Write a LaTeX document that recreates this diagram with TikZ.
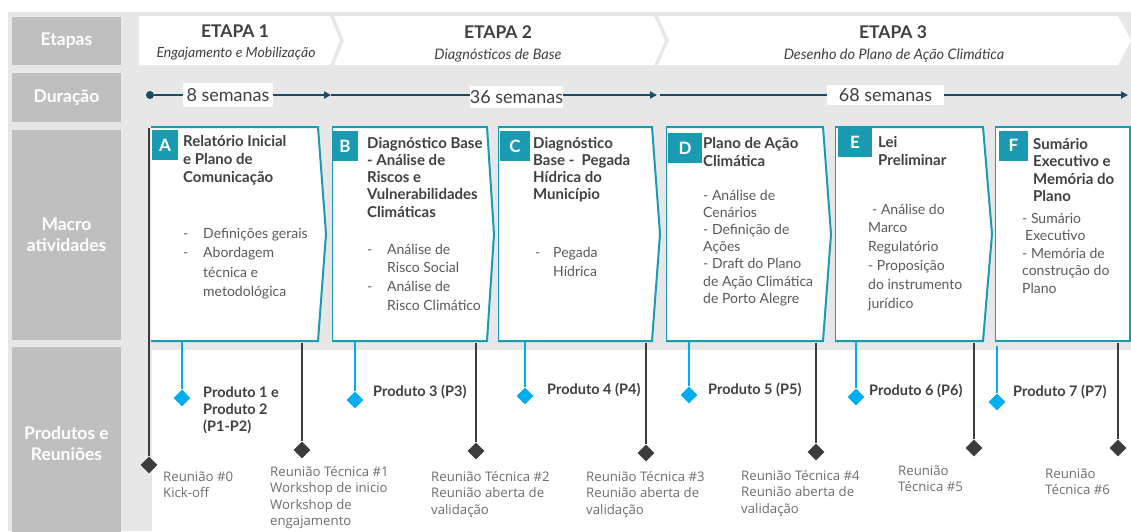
\documentclass[tikz,border=0pt]{standalone}
\usepackage{fontspec}
\setmainfont{Lato}
\newfontfamily\meetfont{Open Sans}
\usetikzlibrary{arrows.meta,shapes.geometric}
\definecolor{bggray}{HTML}{E7E7E7}
\definecolor{labgray}{HTML}{BFBFBF}
\definecolor{boxteal}{HTML}{1A9BB2}
\definecolor{lineblue}{HTML}{1B4B66}
\definecolor{prodblue}{HTML}{00AEEF}
\definecolor{meetgray}{HTML}{3C3C3C}
\definecolor{txtdark}{HTML}{404040}
\definecolor{txtmid}{HTML}{5A5A5A}
\definecolor{txtlight}{HTML}{6E6E6E}
\begin{document}
\begin{tikzpicture}[x=1pt,y=-1pt,
    rowlabel/.style={fill=labgray, text=white, align=center, inner sep=0pt,
      font=\bfseries\fontsize{17.5}{21}\selectfont},
    etapatitle/.style={text=txtdark, anchor=base, inner sep=0pt,
      font=\bfseries\fontsize{17.5}{20}\selectfont},
    etapasub/.style={text=txtdark, anchor=base, inner sep=0pt,
      font=\itshape\fontsize{14.5}{16}\selectfont},
    weeks/.style={fill=white, text=txtdark, inner sep=0pt,
      font=\fontsize{18}{20}\selectfont},
    timeline/.style={draw=lineblue, line width=2pt},
    boxline/.style={draw=boxteal, line width=2pt, line join=miter},
    letterbox/.style={fill=boxteal, text=white, inner sep=0pt, minimum height=30pt,
      font=\bfseries\fontsize{17}{17}\selectfont},
    titletext/.style={text=txtdark, align=left, anchor=base west, inner sep=0pt},
    itemtext/.style={text=txtmid, align=left, anchor=base west, inner sep=0pt},
    prodline/.style={draw=prodblue, line width=2pt},
    meetline/.style={draw=meetgray, line width=2pt},
    proddiamond/.style={diamond, fill=prodblue, minimum size=17pt, inner sep=0pt},
    meetdiamond/.style={diamond, fill=meetgray, minimum size=17pt, inner sep=0pt},
    prodtext/.style={text=txtdark, align=left, anchor=base west, inner sep=0pt,
      font=\bfseries\fontsize{14.5}{17}\selectfont},
    meettext/.style={text=txtlight, align=left, anchor=base west, inner sep=0pt,
      font=\meetfont\fontsize{13.2}{16.5}\selectfont}]
\useasboundingbox (0,0) rectangle (1131,531);

% Drawing background
\fill[white] (0,0) rectangle (1131,531);
\fill[bggray] (8,12) rectangle (1131,531);
\fill[white] (152,350) rectangle (1131,531);

% Drawing row labels
\node[rowlabel, minimum width=109pt, minimum height=48pt] (etapas) at (66.5,41) {Etapas};
\node[rowlabel, minimum width=109pt, minimum height=49pt] (duracao) at (66.5,97.5) {Duração};
\node[rowlabel, minimum width=109pt, minimum height=210pt] (macro) at (66.5,235) {Macro\\atividades};
\node[rowlabel, minimum width=109pt, minimum height=194pt] (produtos) at (66.5,444) {Produtos e\\Reuniões};

% Drawing stage chevrons
\fill[white] (139,16) -- (330,16) -- (340,40.5) -- (330,65) -- (139,65) -- cycle;
\fill[white] (334,16) -- (654,16) -- (665,40.5) -- (654,65) -- (334,65) -- (344,40.5) -- cycle;
\fill[white] (658,16) -- (1118,16) -- (1131,40.5) -- (1118,65) -- (658,65) -- (669,40.5) -- cycle;

% Marking stage texts
\node[etapatitle] (e1) at (235,37) {ETAPA 1};
\node[etapasub, font=\itshape\fontsize{14}{16}\selectfont] (e1sub) at (236,57) {Engajamento e Mobilização};
\node[etapatitle] (e2) at (498,38.5) {ETAPA 2};
\node[etapasub] (e2sub) at (498,59.5) {Diagnósticos de Base};
\node[etapatitle] (e3) at (893,38.5) {ETAPA 3};
\node[etapasub] (e3sub) at (894,59.5) {Desenho do Plano de Ação Climática};

% Drawing time line
\node[circle, fill=lineblue, minimum size=8pt, inner sep=0pt] (t0) at (150,95) {};
\coordinate (t1) at (331,95);
\coordinate (t2) at (657,95);
\coordinate (t3) at (1128,95);
\draw[timeline, -{Triangle[length=7pt,width=7pt]}] (t0) -- (t1);
\draw[timeline, -{Triangle[length=7pt,width=7pt]}] (t1) -- (t2);
\draw[timeline, shorten <=3pt, -{Triangle[length=7pt,width=7pt]}] (t2) -- (t3);

% Marking durations
\node[weeks, minimum width=90pt, minimum height=24pt] (w1) at (228,95) {8 semanas};
\node[weeks, minimum width=93pt, minimum height=22pt] (w2) at (516.5,97) {36 semanas};
\node[weeks, minimum width=117pt, minimum height=20pt] (w3) at (885.5,95) {68 semanas};

% Drawing macro activity boxes
\fill[white] (151,127) -- (318,127) -- (326,234) -- (318,341) -- (151,341) -- cycle;
\draw[boxline] (151,127) -- (318,127) -- (326,234) -- (318,341) -- (151,341);
\fill[white] (332,127) -- (487,127) -- (494,234) -- (487,341) -- (332,341) -- cycle;
\draw[boxline] (332,127) -- (487,127) -- (494,234) -- (487,341) -- (332,341);
\draw[boxteal, line width=0.5pt] (332,127) -- (332,341);
\fill[white] (498,127) -- (652,127) -- (660,234) -- (652,341) -- (498,341) -- cycle;
\draw[boxline] (498,127) -- (652,127) -- (660,234) -- (652,341) -- (498,341);
\draw[boxteal, line width=0.5pt] (498,127) -- (498,341);
\fill[white] (666,127) -- (823,127) -- (831,234) -- (823,341) -- (666,341) -- cycle;
\draw[boxline] (666,127) -- (823,127) -- (831,234) -- (823,341) -- (666,341);
\draw[boxteal, line width=0.5pt] (666,127) -- (666,341);
\fill[white] (835,127) -- (983,127) -- (992,234) -- (983,341) -- (835,341) -- cycle;
\draw[boxline] (835,127) -- (983,127) -- (992,234) -- (983,341) -- (835,341);
\draw[boxteal, line width=0.5pt] (835,127) -- (835,341);
\fill[white] (995,127) rectangle (1130,341);
\draw[boxline] (995,127) -- (1130,127) -- (1130,341) -- (995,341);
\draw[boxteal, line width=0.5pt] (995,127) -- (995,341);

% Marking box letters
\node[letterbox, minimum width=26pt] (lA) at (165,145) {A};
\node[letterbox, minimum width=26pt] (lB) at (345,146) {B};
\node[letterbox, minimum width=30pt] (lC) at (515,146) {C};
\node[letterbox, minimum width=34pt] (lD) at (685,148) {D};
\node[letterbox, minimum width=34pt] (lE) at (855,142) {E};
\node[letterbox, minimum width=29pt] (lF) at (1013.5,145.5) {F};

% Box A
\node[titletext, font=\bfseries\fontsize{15}{18}\selectfont] (tA) at (183,182)
  {Relatório Inicial\\e Plano de\\Comunicação};
\node[itemtext, font=\fontsize{14}{19.5}\selectfont] (dA) at (183,257.5) {-\\-};
\node[itemtext, font=\fontsize{14}{19.5}\selectfont] (iA) at (203,296.5)
  {Definições gerais\\Abordagem\\técnica e\\metodológica};

% Box B
\node[titletext, font=\bfseries\fontsize{15}{17.3}\selectfont] (tB) at (367,217.2)
  {Diagnóstico Base\\- Análise de\\Riscos e\\Vulnerabilidades\\Climáticas};
\node[itemtext, font=\fontsize{14}{18.7}\selectfont] (dB) at (367,291.4) {-\\\mbox{}\\-};
\node[itemtext, font=\fontsize{14}{18.7}\selectfont] (iB) at (387,310.1)
  {Análise de\\Risco Social\\Análise de\\Risco Climático};

% Box C
\node[titletext, font=\bfseries\fontsize{15}{17.3}\selectfont] (tC) at (533,199.9)
  {Diagnóstico\\Base -\ \ Pegada\\Hídrica do\\Município};
\node[itemtext, font=\fontsize{14}{19}\selectfont] (dC) at (535,257) {-};
\node[itemtext, font=\fontsize{14}{19}\selectfont] (iC) at (553,276) {Pegada\\Hídrica};

% Box D
\node[titletext, font=\bfseries\fontsize{15}{18}\selectfont] (tD) at (703,166)
  {Plano de Ação\\Climática};
\node[itemtext, font=\fontsize{14}{17.2}\selectfont] (iD) at (703,303.2)
  {- Análise de\\Cenários\\- Definição de\\Ações\\- Draft do Plano\\de Ação Climática\\de Porto Alegre};

% Box E
\node[titletext, font=\bfseries\fontsize{15}{18}\selectfont] (tE) at (878,165)
  {Lei\\Preliminar};
\node[itemtext, font=\fontsize{14}{18.8}\selectfont] (iE) at (868,308)
  {\hspace{4pt}- Análise do\\Marco\\Regulatório\\- Proposição\\do instrumento\\jurídico};

% Box F
\node[titletext, font=\bfseries\fontsize{15}{17.5}\selectfont] (tF) at (1033,201.5)
  {Sumário\\Executivo e\\Memória do\\Plano};
\node[itemtext, font=\fontsize{14}{17.5}\selectfont] (iF) at (1022,293)
  {- Sumário\\\hspace{3pt}Executivo\\- Memória de\\construção do\\Plano};

% Drawing product lines
\coordinate (pA) at (182,342);
\coordinate (pB) at (355,342);
\coordinate (pC) at (525,342);
\coordinate (pD) at (689,342);
\coordinate (pE) at (856,342);
\coordinate (pF) at (997,346);
\node[proddiamond] (qA) at (182,398) {};
\node[proddiamond] (qB) at (355,400) {};
\node[proddiamond] (qC) at (525,396) {};
\node[proddiamond] (qD) at (689,395) {};
\node[proddiamond] (qE) at (856,397) {};
\node[proddiamond] (qF) at (997,402) {};
\draw[prodline] (pA) -- (qA);
\draw[prodline] (pB) -- (qB);
\draw[prodline] (pC) -- (qC);
\draw[prodline] (pD) -- (qD);
\draw[prodline] (pE) -- (qE);
\draw[prodline] (pF) -- (qF);

% Marking products
\node[prodtext] (prA) at (203,431) {Produto 1 e\\Produto 2\\(P1-P2)};
\node[prodtext] (prB) at (373,396) {Produto 3 (P3)};
\node[prodtext] (prC) at (547,394) {Produto 4 (P4)};
\node[prodtext] (prD) at (708,394) {Produto 5 (P5)};
\node[prodtext] (prE) at (869,395) {Produto 6 (P6)};
\node[prodtext] (prF) at (1013,396) {Produto 7 (P7)};

% Drawing meeting lines
\coordinate (m0) at (149,128);
\coordinate (m1) at (302,343);
\coordinate (m2) at (476,343);
\coordinate (m3) at (646,343);
\coordinate (m4) at (816,343);
\coordinate (m5) at (974,343);
\coordinate (m6) at (1118,343);
\node[meetdiamond] (n0) at (149,465) {};
\node[meetdiamond] (n1) at (302,450) {};
\node[meetdiamond] (n2) at (476,451) {};
\node[meetdiamond] (n3) at (646,453) {};
\node[meetdiamond] (n4) at (816,452) {};
\node[meetdiamond] (n5) at (974,448) {};
\node[meetdiamond] (n6) at (1118,448) {};
\draw[meetline] (m0) -- (n0);
\draw[meetline] (m1) -- (n1);
\draw[meetline] (m2) -- (n2);
\draw[meetline] (m3) -- (n3);
\draw[meetline] (m4) -- (n4);
\draw[meetline] (m5) -- (n5);
\draw[meetline] (m6) -- (n6);

% Marking meetings
\node[meettext] (r0) at (163,497.5) {Reunião \#0\\Kick-off};
\node[meettext] (r1) at (270,525.5) {Reunião Técnica \#1\\Workshop de inicio\\Workshop de\\engajamento};
\node[meettext] (r2) at (431,514) {Reunião Técnica \#2\\Reunião aberta de\\validação};
\node[meettext] (r3) at (586,514) {Reunião Técnica \#3\\Reunião aberta de\\validação};
\node[meettext] (r4) at (741,513) {Reunião Técnica \#4\\Reunião aberta de\\validação};
\node[meettext] (r5) at (898,491.5) {Reunião\\Técnica \#5};
\node[meettext] (r6) at (1045,494.5) {Reunião\\Técnica \#6};
\end{tikzpicture}
\end{document}
